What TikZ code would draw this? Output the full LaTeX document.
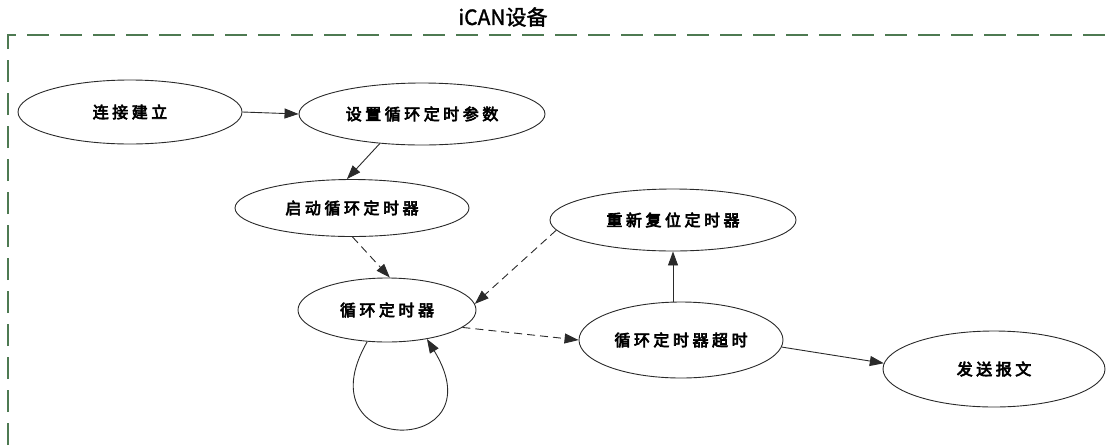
\documentclass[tikz,border=0pt]{standalone}
\usepackage{fontspec}
\newfontfamily\cjk[LetterSpace=22,FakeBold=4]{Noto Sans CJK SC}
\newfontfamily\cjktitle[FakeBold=1.5]{Noto Sans CJK SC}
\usetikzlibrary{arrows.meta,shapes.geometric}
\definecolor{boxgreen}{HTML}{4E7A52}
\definecolor{edgegray}{HTML}{2A2A2A}
\tikzset{
  st/.style={ellipse, draw=edgegray, line width=0.9pt, inner sep=0pt,
    font=\cjk\fontsize{16}{18}\selectfont},
  conn/.style={draw=edgegray, line width=0.9pt, -{Triangle[length=14pt,width=10pt]}},
  dconn/.style={conn, dash pattern=on 8pt off 5pt},
  boxline/.style={draw=boxgreen, line width=1.8pt, dash pattern=on 22pt off 11pt}
}
\begin{document}
\begin{tikzpicture}[x=1pt,y=-1pt]
\path[use as bounding box] (0,0) rectangle (1110,445);
\draw[boxline] (8,445) -- (8,35) -- (1110,35);
\node[font=\cjktitle\fontsize{21}{23}\selectfont] (title) at (503,17) {iCAN设备};

\node[st, minimum width=224pt, minimum height=64pt] (conn) at (130,112) {连接建立};
\node[st, minimum width=246pt, minimum height=62pt] (setp) at (422,114) {设置循环定时参数};
\node[st, minimum width=234pt, minimum height=57pt] (start) at (352,208) {启动循环定时器};
\node[st, minimum width=178pt, minimum height=64pt] (timer) at (387,310) {循环定时器};
\node[st, minimum width=246pt, minimum height=62pt] (reset) at (673,220) {重新复位定时器};
\node[st, minimum width=204pt, minimum height=76pt] (tout) at (681,340) {循环定时器超时};
\node[st, minimum width=222pt, minimum height=76pt] (send) at (994,369) {发送报文};

\draw[conn] (conn.east) -- (setp.west);
\draw[conn] (setp.-145) -- (start.100);
\draw[dconn] (start.-89) -- (timer.85);
\draw[dconn] (reset.185) -- (timer.4);
\draw[dconn] (timer.-13) -- (tout.west);
\draw[conn] (reset.south |- tout.north) -- (reset.south);
\draw[conn] (tout.-4) -- (send.177);
\draw[conn] (timer.-122) .. controls (300,458) and (500,458) .. (timer.-36);
\end{tikzpicture}
\end{document}
